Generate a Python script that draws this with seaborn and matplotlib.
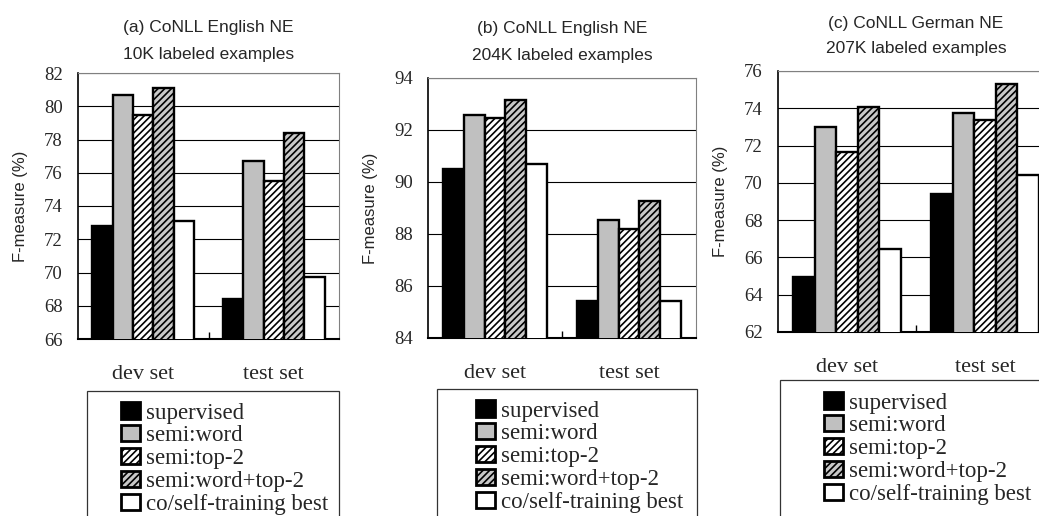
import matplotlib
matplotlib.use('Agg')
import matplotlib.pyplot as plt
from matplotlib.patches import Patch, Rectangle
import seaborn as sns
import pandas as pd

methods = ['supervised', 'semi:word', 'semi:top-2', 'semi:word+top-2', 'co/self-training best']
sets = ['dev set', 'test set']

# F-measure (%), one [dev, test] pair per method
eng10k = [[72.8, 68.4], [80.7, 76.7], [79.5, 75.5], [81.1, 78.4], [73.1, 69.7]]
eng204k = [[90.5, 85.43], [92.57, 88.54], [92.48, 88.18], [93.14, 89.28], [90.68, 85.43]]
ger207k = [[64.93, 69.41], [73.02, 73.73], [71.64, 73.38], [74.09, 75.29], [66.47, 70.43]]

titles = ['(a) CoNLL English NE\n10K labeled examples',
          '(b) CoNLL English NE\n204K labeled examples',
          '(c) CoNLL German NE\n207K labeled examples']
ylims = [(66, 82), (84, 94), (62, 76)]

face = ['black', '#c0c0c0', 'white', '#c8c8c8', 'white']
hatches = [None, None, '/////', '/////', None]
hatch_cols = ['black', 'black', 'black', '#404040', 'black']

sns.set_style('white')
plt.rcParams['font.family'] = ['Liberation Sans', 'DejaVu Sans']
plt.rcParams['hatch.linewidth'] = 1.2

W, H = 1039, 516
fig = plt.figure(figsize=(W / 100, H / 100), dpi=100)

# axes boxes in pixels: left, top, width, height
boxes = [(78, 73, 261, 266), (428, 78, 268, 260), (778, 71, 276, 261)]
# legend: frame left, right, top; first handle left, first row top
legs = [(87, 339, 391, 110, 391), (437, 697, 389, 465, 389), (780, 1060, 380, 813, 381)]
title_pads = [10, 13, 13]
title_spacing = [2.0, 2.0, 1.8]


def hatch_color(patch, col):
    if hasattr(patch, 'set_hatchcolor'):
        patch.set_hatchcolor(col)


for data, title, ylim, box, lg, tp, ls in zip([eng10k, eng204k, ger207k], titles, ylims, boxes,
                                               legs, title_pads, title_spacing):
    l, t, w, h = box
    ax = fig.add_axes([l / W, 1 - (t + h) / H, w / W, h / H])
    df = pd.DataFrame([(s, m, data[i][j]) for i, m in enumerate(methods) for j, s in enumerate(sets)],
                      columns=['set', 'method', 'f'])
    sns.barplot(data=df, x='set', y='f', hue='method', order=sets, hue_order=methods,
                palette=face, saturation=1, width=0.78, gap=0, errorbar=None,
                edgecolor='black', linewidth=1.7, legend=False, ax=ax, zorder=3)
    for cont, hh, hc in zip(ax.containers, hatches, hatch_cols):
        for bar in cont:
            if hh:
                bar.set_hatch(hh)
                hatch_color(bar, hc)

    ax.set_xlim(-0.5, 1.5)
    ax.set_ylim(*ylim)
    ax.set_yticks(range(ylim[0], ylim[1] + 1, 2))
    ax.yaxis.grid(True, color='black', lw=0.8)
    ax.set_axisbelow(True)
    ax.tick_params(axis='y', length=0, pad=11, labelsize=13.5, labelfontfamily='Liberation Serif')
    ax.tick_params(axis='x', which='major', length=0, pad=19, labelsize=16, labelfontfamily='Liberation Serif')
    ax.set_xticks([0.5], minor=True)
    ax.tick_params(axis='x', which='minor', bottom=True, direction='in', length=5, width=1, color='black')
    ax.set_xlabel('')
    ax.set_ylabel('F-measure (%)', fontsize=12)
    ax.yaxis.set_label_coords(-50 / w, 0.5)
    ax.set_title(title, fontsize=12.5, linespacing=ls, pad=tp)

    for side in ['top', 'right']:
        ax.spines[side].set_color('#808080')
        ax.spines[side].set_linewidth(0.8)
    ax.spines['left'].set_color('black')
    ax.spines['left'].set_linewidth(1.2)
    ax.spines['bottom'].set_color('black')
    ax.spines['bottom'].set_linewidth(1.5)

    fx0, fx1, ftop, hx, hy = lg
    fig.add_artist(Rectangle((fx0 / W, 1 - (ftop + 160) / H), (fx1 - fx0) / W, 160 / H,
                             transform=fig.transFigure, fill=False, edgecolor='#333333', lw=0.9))
    handles = []
    for fc, hh, hc in zip(face, hatches, hatch_cols):
        p = Patch(facecolor=fc, edgecolor='black', linewidth=2, hatch=hh)
        hatch_color(p, hc)
        handles.append(p)
    fig.legend(handles, methods, loc='upper left', bbox_to_anchor=(hx / W, 1 - hy / H),
               frameon=False, borderpad=0, handlelength=0.8, handleheight=0.7,
               handletextpad=0.25, labelspacing=0.08,
               prop={'family': 'Liberation Serif', 'size': 16.5})

fig.savefig('out.png', dpi=100)
